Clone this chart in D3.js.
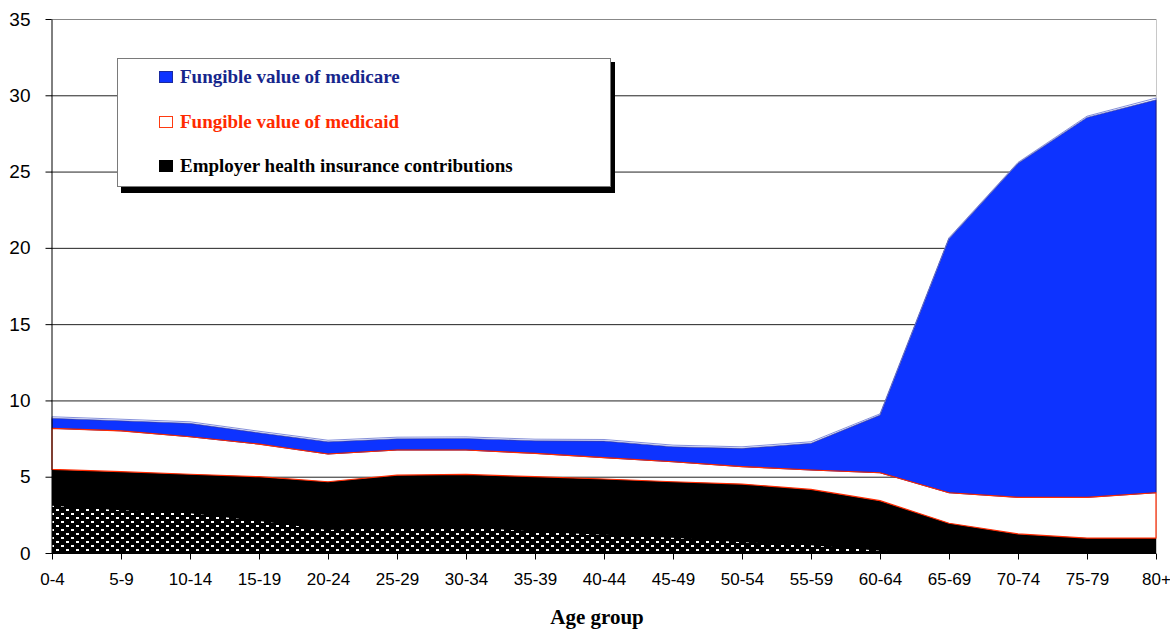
<!DOCTYPE html>
<html>
<head>
<meta charset="utf-8">
<script src="https://cdn.jsdelivr.net/npm/d3@7/dist/d3.min.js"></script>
<style>
  html, body { margin: 0; padding: 0; background: #fff; }
  svg { display: block; }
</style>
</head>
<body>
<svg id="chart" width="1170" height="632"></svg>
<script>
// ---- data ----
const ageGroups = ["0-4","5-9","10-14","15-19","20-24","25-29","30-34","35-39","40-44","45-49","50-54","55-59","60-64","65-69","70-74","75-79","80+"];
// Employer health insurance contributions (black)
const employer = [5.48,5.33,5.16,5.0,4.67,5.1,5.15,5.0,4.85,4.67,4.52,4.17,3.43,1.95,1.25,0.98,0.98];
// dotted portion at the bottom of the black area
const employerDotted = [3.1,2.8,2.6,2.1,1.5,1.7,1.7,1.4,1.2,1.0,0.7,0.5,0.15,0,0,0,0];
// Fungible value of medicaid (stacked increment)
const medicaid = [2.69,2.68,2.46,2.14,1.82,1.65,1.6,1.53,1.4,1.31,1.14,1.27,1.83,2.0,2.4,2.67,2.97];
// Fungible value of medicare (stacked increment)
const medicare = [0.66,0.66,0.88,0.74,0.8,0.74,0.76,0.83,1.09,0.99,1.2,1.75,3.78,16.65,21.89,24.9,25.75];
// thin layer on top
const topLayer = [0.1,0.1,0.1,0.1,0.1,0.1,0.1,0.1,0.1,0.1,0.1,0.1,0.08,0.06,0.06,0.08,0.12];
const yTicks = [0,5,10,15,20,25,30,35];
const legendItems = ["Fungible value of medicare","Fungible value of medicaid","Employer health insurance contributions"];

// ---- chart ----
(function () {
const svg = d3.select("#chart");
const pLeft = 51, pRight = 1156, pTop = 19, pBottom = 553;
const x = d3.scalePoint().domain(ageGroups).range([52, 1156]);
const y = d3.scaleLinear().domain([0, 35]).range([pBottom, pTop]);

const defs = svg.append("defs");
const pat = defs.append("pattern").attr("id","dots").attr("patternUnits","userSpaceOnUse")
  .attr("width", 10).attr("height", 8);
pat.append("rect").attr("width",10).attr("height",8).attr("fill","#000");
pat.append("rect").attr("x",1).attr("y",1).attr("width",3).attr("height",2).attr("fill","#fff");
pat.append("rect").attr("x",6).attr("y",5).attr("width",3).attr("height",2).attr("fill","#fff");

// gridlines
svg.append("g").selectAll("line").data(yTicks.filter(d => d > 0)).join("line")
  .attr("x1", pLeft).attr("x2", pRight)
  .attr("y1", d => y(d) + 0.5).attr("y2", d => y(d) + 0.5)
  .attr("stroke", d => d === 35 ? "#888" : "#222").attr("stroke-width", 1);
// right border
svg.append("line").attr("x1", pRight + 0.5).attr("x2", pRight + 0.5).attr("y1", pTop).attr("y2", pBottom)
  .attr("stroke", "#c8c8c8");

// stack
const keys = ["employer","medicaid","medicare","topLayer"];
const rows = ageGroups.map((g, i) => ({
  age: g, employer: employer[i], medicaid: medicaid[i], medicare: medicare[i], topLayer: topLayer[i]
}));
const series = d3.stack().keys(keys)(rows);
const area = d3.area().x(d => x(d.data.age)).y0(d => y(d[0])).y1(d => y(d[1]));

const styles = {
  medicaid: { fill: "none", stroke: "#ff2a00", sw: 1.2 },
  medicare: { fill: "#0d33ff", stroke: "#1a1a9a", sw: 1 },
  topLayer: { fill: "#fff", stroke: "#5060c8", sw: 0.7 }
};
const byKey = {};
series.forEach(s => byKey[s.key] = s);

svg.append("path").datum(byKey.employer).attr("d", area).attr("fill", "#000");
const dotArea = d3.area().x((d, i) => x(ageGroups[i])).y0(y(0)).y1(d => y(d));
svg.append("path").datum(employerDotted).attr("d", dotArea).attr("fill", "url(#dots)");
["medicare","topLayer","medicaid"].forEach(k => {
  svg.append("path").datum(byKey[k]).attr("d", area)
    .attr("fill", styles[k].fill).attr("stroke", styles[k].stroke)
    .attr("stroke-width", styles[k].sw).attr("stroke-linejoin", "round");
});

// axes
const yAxis = d3.axisLeft(y).tickValues(yTicks).tickSize(6).tickPadding(15).tickSizeOuter(0);
const gy = svg.append("g").attr("transform", `translate(${pLeft + 0.5},0)`).call(yAxis);
gy.select(".domain").attr("stroke", "#000");
gy.selectAll("text").attr("font-family", "Liberation Sans, Arial, sans-serif").attr("font-size", 19).attr("fill", "#000");

const xAxis = d3.axisBottom(x).tickSize(6).tickPadding(13).tickSizeOuter(0);
const gx = svg.append("g").attr("transform", `translate(0,${pBottom + 0.5})`).call(xAxis);
gx.select(".domain").attr("stroke", "#000").attr("d", `M${pLeft},0H${pRight}`);
gx.selectAll("text").attr("font-family", "Liberation Sans, Arial, sans-serif").attr("font-size", 17).attr("fill", "#000");

svg.append("text").attr("x", 597).attr("y", 624).attr("text-anchor", "middle")
  .attr("font-family", "Liberation Serif, Times New Roman, serif").attr("font-weight", "bold")
  .attr("font-size", 21).text("Age group");

// legend
const lg = svg.append("g");
lg.append("rect").attr("x", 121).attr("y", 62).attr("width", 494).attr("height", 131).attr("fill", "#000");
lg.append("rect").attr("x", 117.5).attr("y", 58.5).attr("width", 493).attr("height", 128)
  .attr("fill", "#fff").attr("stroke", "#7a7a7a").attr("stroke-width", 1);
const legendColors = [
  { fill: "#0d33ff", stroke: "#1a2aa0", text: "#16268c" },
  { fill: "#fff", stroke: "#ff3a10", text: "#ff2a00" },
  { fill: "#000", stroke: "#000", text: "#000" }
];
const rowY = [83, 128, 172];
legendItems.forEach((t, i) => {
  lg.append("rect").attr("x", 159.5).attr("y", rowY[i] - 11.5).attr("width", 13).attr("height", 11)
    .attr("fill", legendColors[i].fill).attr("stroke", legendColors[i].stroke);
  lg.append("text").attr("x", 180).attr("y", rowY[i])
    .attr("font-family", "Liberation Serif, Times New Roman, serif").attr("font-weight", "bold")
    .attr("font-size", 19).attr("fill", legendColors[i].text).text(t);
});
})();
</script>
</body>
</html>
